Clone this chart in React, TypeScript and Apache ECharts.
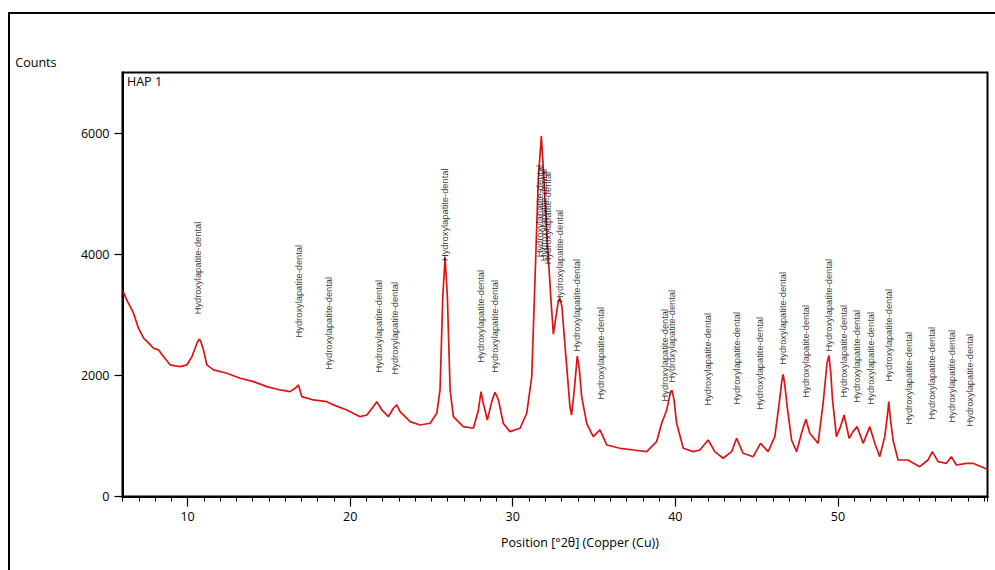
import React, { useEffect, useRef } from "react";
import * as echarts from "echarts";

// Diffractogram trace (°2θ, counts)
const twoTheta = [
  6.04, 6.26, 6.68, 6.98, 7.3, 7.61, 7.91, 8.22, 8.52, 8.94, 9.25, 9.55, 9.96,
  10.27, 10.58, 10.66, 10.74, 10.84, 10.98, 11.19, 11.6, 12.42, 13.24, 14.06, 14.88, 15.7,
  16.31, 16.62, 16.82, 17.03, 17.74, 18.57, 18.97, 19.8, 20.61, 21.03, 21.43,
  21.64, 21.95, 22.36, 22.66, 22.87, 23.07, 23.69, 24.3, 24.92, 25.33, 25.53,
  25.7, 25.84, 25.98, 26.15, 26.35, 26.96, 27.58, 27.89, 28.05, 28.19, 28.44,
  28.71, 28.91, 29.12, 29.42, 29.83, 30.45, 30.86, 31.17, 31.37, 31.57, 31.76,
  31.92, 32.05, 32.2, 32.35, 32.5, 32.65, 32.8, 32.9, 33.02, 33.22, 33.52,
  33.62, 33.8, 33.97, 34.1, 34.24, 34.55, 34.95, 35.37, 35.78, 36.6, 37.42,
  38.24, 38.85, 39.16, 39.47, 39.71, 39.8, 39.92, 40.08, 40.49, 41.1, 41.51, 42.02,
  42.43, 42.94, 43.46, 43.77, 44.17, 44.79, 45.24, 45.71, 46.12, 46.39, 46.55, 46.63,
  46.73, 46.88, 47.15, 47.46, 47.76, 48.03, 48.27, 48.78, 49.09, 49.33, 49.45, 49.56, 49.67,
  49.91, 50.16, 50.38, 50.69, 50.93, 51.18, 51.55, 51.96, 52.27, 52.57, 52.88,
  53.05, 53.13, 53.22, 53.39, 53.7, 54.31, 55.03, 55.54, 55.81, 56.16, 56.67, 56.98, 57.29,
  57.9, 58.31, 59.03, 59.2,
];
const counts = [
  3383, 3246, 3026, 2779, 2613, 2531, 2448, 2420, 2310, 2172, 2156, 2144, 2172,
  2310, 2531, 2575, 2597, 2540, 2420, 2172, 2090, 2035, 1953, 1897, 1814, 1759,
  1731, 1787, 1842, 1649, 1594, 1566, 1512, 1429, 1318, 1346, 1484,
  1566, 1429, 1318, 1457, 1512, 1401, 1236, 1181, 1209, 1374, 1759,
  3301, 3950, 3301, 1759, 1318, 1153, 1127, 1429, 1731, 1540, 1264,
  1566, 1721, 1594, 1209, 1071, 1127, 1374, 1979, 3577, 5229, 5950,
  5250, 4550, 3900, 3250, 2680, 2950, 3220, 3270, 3150, 2475, 1484,
  1346, 1800, 2320, 2100, 1649, 1209, 988, 1099, 851, 796, 768,
  740, 905, 1209, 1429, 1731, 1750, 1600, 1209, 796, 740, 768, 933,
  740, 631, 740, 961, 713, 657, 878, 740, 988, 1540, 1900, 2015,
  1850, 1484, 933, 740, 1044, 1275, 1044, 878, 1540, 2200, 2330, 2050, 1594,
  988, 1153, 1346, 961, 1071, 1153, 878, 1153, 878, 657, 988,
  1350, 1566, 1300, 933, 603, 603, 492, 603, 740, 575, 548, 657, 520,
  548, 548, 466, 450,
];

// Reference pattern markers (position, counts where the label starts)
const peakPositions = [
  10.7, 16.87, 18.73, 21.8, 22.8, 25.84, 28.09, 28.97, 31.72, 31.98, 32.2,
  32.95, 34.0, 35.43, 39.4, 39.84, 42.02, 43.83, 45.24, 46.67, 48.07, 49.46,
  50.38, 51.2, 52.07, 53.19, 54.38, 55.81, 57.04, 58.17,
];
const peakLabelStarts = [
  3000, 2618, 2090, 2040, 2007, 3879, 2205, 2040, 3940, 3874, 3824,
  3197, 2387, 1594, 1561, 1875, 1494, 1511, 1428, 2172, 1627, 2387,
  1627, 1545, 1511, 1892, 1181, 1264, 1214, 1148,
];
const peakLabel = "Hydroxylapatite-dental";

const xMajorTicks = [10, 20, 30, 40, 50];
const yTicks = [0, 2000, 4000, 6000];

const X_MIN = 6.0;
const X_MAX = 59.2;
const X_MINOR_INTERVAL = 1;
const Y_MIN = 0;
const Y_MAX = 7000;

const UI_FONT = "'Open Sans', 'DejaVu Sans', sans-serif";

export default function App() {
  const ref = useRef<HTMLDivElement>(null);

  useEffect(() => {
    if (!ref.current) return;
    const chart = echarts.init(ref.current, null, { renderer: "svg" });
    const trace = twoTheta.map((x, i) => [x, counts[i]]);
    const markers = peakPositions.map((x, i) => [x, peakLabelStarts[i]]);

    chart.setOption({
      animation: false,
      backgroundColor: "#ffffff",
      title: {
        text: "HAP 1",
        left: 127,
        top: 75,
        padding: 0,
        textStyle: {
          fontFamily: UI_FONT,
          fontSize: 12.5,
          fontWeight: "normal",
          color: "#000",
        },
      },
      grid: {
        left: 122.5,
        top: 72.5,
        right: 7.5,
        bottom: 73.5,
        show: true,
        borderColor: "#000",
        borderWidth: 2,
        backgroundColor: "transparent",
        outerBoundsMode: "none",
      },
      graphic: [
        {
          type: "rect",
          silent: true,
          shape: { x: 9, y: 13, width: 1000, height: 600 },
          style: { fill: "none", stroke: "#000", lineWidth: 2 },
        },
      ],
      xAxis: [
        {
          type: "value",
          min: X_MIN,
          max: X_MAX,
          position: "bottom",
          name: "Position [°2θ] (Copper (Cu))",
          nameLocation: "middle",
          nameGap: 39,
          nameTextStyle: {
            fontFamily: UI_FONT,
            fontSize: 12.5,
            color: "#000",
            padding: [0, 0, 0, 50],
          },
          axisLine: { show: true, onZero: false, lineStyle: { color: "#000", width: 2 } },
          axisTick: {
            show: true,
            customValues: xMajorTicks,
            length: 10,
            lineStyle: { color: "#000", width: 1.2 },
          },
          axisLabel: {
            customValues: xMajorTicks,
            margin: 13,
            fontFamily: UI_FONT,
            fontSize: 12.5,
            color: "#000",
          },
          splitLine: { show: false },
        },
        {
          type: "value",
          min: X_MIN,
          max: X_MAX,
          interval: X_MINOR_INTERVAL,
          position: "bottom",
          axisLine: { show: true, onZero: false, lineStyle: { color: "#000", width: 2 } },
          axisTick: {
            show: true,
            length: 5,
            lineStyle: { color: "#000", width: 1 },
          },
          axisLabel: { show: false },
          splitLine: { show: false },
        },
      ],
      yAxis: {
        type: "value",
        min: Y_MIN,
        max: Y_MAX,
        name: "Counts",
        nameLocation: "end",
        nameGap: 4,
        nameTextStyle: {
          fontFamily: UI_FONT,
          fontSize: 12.5,
          color: "#000",
          align: "right",
          padding: [0, 66, 0, 0],
        },
        axisLine: { show: true, onZero: false, lineStyle: { color: "#000", width: 2 } },
        axisTick: {
          show: true,
          customValues: yTicks,
          length: 8,
          lineStyle: { color: "#000", width: 1.2 },
        },
        axisLabel: {
          customValues: yTicks,
          formatter: (v: number) => String(v),
          margin: 13,
          fontFamily: UI_FONT,
          fontSize: 12.5,
          color: "#000",
        },
        splitLine: { show: false },
      },
      series: [
        {
          name: "HAP 1",
          type: "line",
          xAxisIndex: 0,
          data: trace,
          showSymbol: false,
          symbol: "none",
          lineStyle: { color: "#dc1414", width: 1.7 },
          z: 2,
        },
        {
          name: "Hydroxylapatite-dental",
          type: "scatter",
          xAxisIndex: 0,
          data: markers,
          symbol: "circle",
          symbolSize: 1,
          itemStyle: { color: "rgba(0,0,0,0)" },
          z: 3,
          label: {
            show: true,
            formatter: peakLabel,
            position: [0, 0],
            rotate: 90,
            align: "left",
            verticalAlign: "middle",
            fontFamily: "'Liberation Sans', Arial, sans-serif",
            fontSize: 9.3,
            color: "#000",
          },
          emphasis: { disabled: true },
        },
      ],
    });

    return () => chart.dispose();
  }, []);

  return (
    <div
      ref={ref}
      style={{ position: "absolute", left: 0, top: 0, width: 995, height: 570 }}
    />
  );
}
